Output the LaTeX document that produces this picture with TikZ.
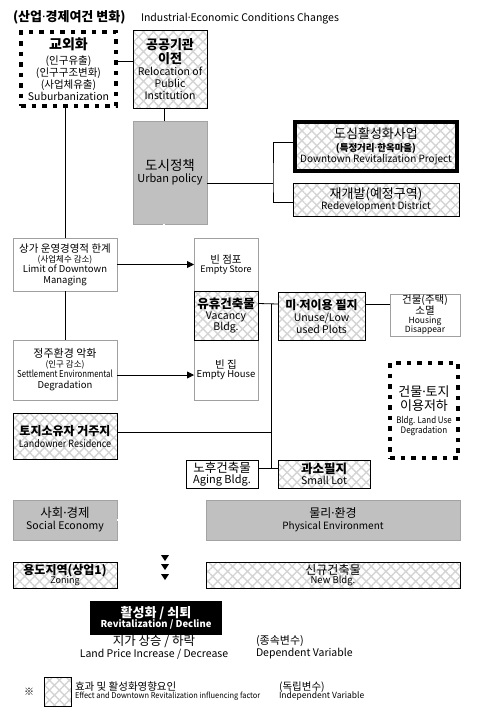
\documentclass[tikz,border=0pt]{standalone}
\usepackage{fontspec}
\setmainfont{Noto Sans CJK KR}
\newfontfamily\dotfont{Noto Sans}
\usetikzlibrary{patterns.meta,arrows.meta}
\definecolor{boxgray}{HTML}{C0C0C0}
\definecolor{edgegray}{HTML}{A0A0A0}
\definecolor{hatchgray}{HTML}{D4D4D4}
\newcommand\fs[2]{{\fontsize{#1}{#1}\selectfont #2}}
\newcommand\cnd[2]{\scalebox{#1}[1]{#2}}
\newcommand\md{{\dotfont ·}}
\newcommand\bx[6]{\node[#2, minimum width={(#5-#3)*1pt}, minimum height={(#6-#4)*1pt}] (#1) at ({(#3+#5)/2},{(#4+#6)/2})}
\tikzset{
  base/.style={inner sep=0pt, outer sep=0pt, align=center, font=\fontsize{10.5}{12}\selectfont},
  hatchbox/.style={base, draw=black, line width=0.8pt, pattern={Hatch[angle=45,distance=7pt,line width=1.4pt]}, pattern color=hatchgray},
  plainbox/.style={base, draw=edgegray, line width=0.8pt, fill=white},
  whitebox/.style={base, draw=black, line width=0.8pt, fill=white},
  graybox/.style={base, draw=boxgray!85!black, line width=0.5pt, fill=boxgray},
  dotbox/.style={base, draw=black, line width=4pt, dash pattern=on 4.5pt off 6pt},
  blackbox/.style={base, fill=black, text=white},
  conn/.style={draw=black, line width=0.8pt},
  arr/.style={conn, -{Triangle[length=7pt,width=7pt]}},
  dbl/.style={draw=black, double=white, double distance=1.4pt, line width=0.6pt},
  lab/.style={inner sep=0pt, outer sep=0pt}
}
\begin{document}
\begin{tikzpicture}[x=1pt,y=-1pt]
\useasboundingbox (0,0) rectangle (484,710);
% title
\node[lab, anchor=base west] (title) at (13,21.5) {\fs{13}{\bfseries (산업\md 경제여건 변화)}};
\node[lab, anchor=base west] (titleen) at (141,21.5) {\fs{10.5}{Industrial\md Economic Conditions Changes}};
% top boxes
\bx{gyo}{dotbox}{21}{32}{116}{106} {\fs{14}{\bfseries 교외화}\\[3pt] (인구유출)\\ (인구구조변화)\\ (사업체유출)\\ Suburbanization};
\bx{gong}{hatchbox}{133}{30}{207}{108} {\fs{13}{\bfseries 공공기관}\\[1pt] \fs{13}{\bfseries 이전}\\[0pt] Relocation of\\ Public\\ Institution};
\bx{dosi}{graybox}{133}{121}{207}{224} {\fs{13.5}{도시정책}\\[0pt] \fs{11}{Urban policy}};
\bx{dosim}{hatchbox, line width=4pt}{295}{122}{457}{171} {\fs{13}{도심활성화사업}\\[1pt] \fs{9.5}{\bfseries (특정거리\md 한옥마을)}\\[-1pt] \fs{10}{Downtown Revitalization Project}};
\bx{redev}{hatchbox}{293}{183}{459}{216} {\fs{13}{재개발(예정구역)}\\[-1pt] \fs{10}{Redevelopment District}};
% left column
\bx{sangga}{plainbox}{13}{238}{117}{291} {\fs{10.5}{상가 운영경영적 한계}\\[-2pt] \fs{8.5}{(사업체수 감소)}\\[-2pt] \fs{9.5}{Limit of Downtown}\\[-1pt] \fs{9.5}{Managing}};
\bx{jeong}{plainbox}{13}{340}{117}{400} {\fs{11}{정주환경 악화}\\[-2pt] \fs{8.5}{(인구 감소)}\\[-2pt] \fs{9.5}{\cnd{0.82}{Settlement Environmental}}\\[-1pt] \fs{9.5}{Degradation}};
\bx{land}{hatchbox}{13}{413}{117}{459} {\fs{12}{\bfseries 토지소유자 거주지}\\[0pt] \fs{10}{\cnd{0.9}{Landowner Residence}}};
% centre stack
\bx{store}{plainbox}{194}{238}{258}{291} {\fs{10.5}{빈 점포}\\[-3pt] \fs{9}{Empty Store}};
\bx{house}{plainbox}{194}{340}{258}{400} {\fs{10.5}{빈 집}\\[-3pt] \fs{9.5}{Empty House}};
\bx{vac}{hatchbox}{194}{291}{258}{340} {\fs{12.5}{\bfseries 유휴건축물}\\[-1pt] Vacancy\\[-1pt] Bldg.};
\bx{miuse}{hatchbox}{278}{292}{365}{340} {\fs{12}{\bfseries 미\md 저이용 필지}\\[0pt] Unuse/Low\\ used Plots};
\bx{housing}{plainbox}{390}{294}{460}{336} {\fs{10.5}{건물(주택)}\\[-1pt] \fs{10.5}{소멸}\\[-3pt] \fs{8.5}{Housing}\\[-3pt] \fs{8.5}{Disappear}};
\bx{bldgland}{dotbox}{390}{363}{458}{458} {\fs{13}{건물\md 토지}\\[2pt] \fs{13}{이용저하}\\[1pt] \fs{9}{\cnd{0.88}{Bldg. Land Use}}\\[-2pt] \fs{9}{\cnd{0.9}{Degradation}}};
\bx{aging}{whitebox}{186}{460}{258}{488} {\fs{12.5}{노후건축물}\\[-1pt] \fs{11}{Aging Bldg.}};
\bx{small}{hatchbox}{278}{460}{370}{488} {\fs{12.5}{\bfseries 과소필지}\\[-1pt] \fs{10.5}{Small Lot}};
% lower row
\bx{socio}{graybox}{13}{500}{117}{540} {\fs{12.5}{사회\md 경제}\\[0pt] \fs{10.5}{Social Economy}};
\bx{phys}{graybox}{206}{500}{460}{540} {\fs{12}{물리\md 환경}\\[0pt] \fs{10}{Physical Environment}};
\bx{zoning}{hatchbox}{13}{562}{117}{588} {\fs{12}{\bfseries 용도지역(상업1)}\\[-3pt] \fs{9}{Zoning}};
\bx{newb}{hatchbox}{206}{562}{460}{588} {\fs{12}{신규건축물}\\[-3pt] \fs{9.5}{New Bldg.}};
\bx{revit}{blackbox}{90}{601}{222}{635} {\fs{13}{\bfseries 활성화 / 쇠퇴}\\[-2pt] \fs{9.5}{\bfseries Revitalization / Decline}};
% dependent variable text
\node[lab, align=center] (land price) at (154,647) {\fs{12.5}{지가 상승 / 하락}\\[0pt] \fs{10.5}{Land Price Increase / Decrease}};
\node[lab, align=left, anchor=west] (dep) at (256,647) {\fs{11}{(종속변수)}\\[0pt] \fs{10.5}{Dependent Variable}};
% legend
\node[lab] (kome) at (29,692) {\fs{10}{※}};
\bx{legbox}{hatchbox}{44}{677}{71}{706} {};
\node[lab, align=left, anchor=west] (legtxt) at (75,691) {\fs{10.5}{효과 및 활성화영향요인}\\[-4pt] \fs{8}{\cnd{0.93}{Effect and Downtown Revitalization influencing factor}}};
\node[lab, align=left, anchor=west] (indep) at (279,691) {\fs{10.5}{(독립변수)}\\[-4pt] \fs{8.5}{Independent Variable}};
% coordinates
\coordinate (cx) at (164,0);
\coordinate (j1) at (273,183);
\coordinate (j2) at (271,0);
\coordinate (dend) at (164,539);
% connectors
\draw[conn] ([yshift=8pt]gyo.east) -- ([yshift=8pt]gong.west);
\draw[conn] (sangga.north) -- (sangga.north |- gyo.south);
\draw[conn] (sangga.south) -- (jeong.north);
\draw[conn] (gong.south -| cx) -- (dosi.north -| cx);
\draw[dbl] (dosi.south -| cx) -- (dend);
\draw[dbl] (socio.east) -- (phys.west);
\draw[conn] ([yshift=-10.5pt]dosi.east) -- (j1);
\draw[conn] ([yshift=4.5pt]dosim.west) -| (j1) |- ([yshift=-2.5pt]redev.west);
\draw[arr] (sangga.east) -- (store.west);
\draw[arr] ([yshift=-5pt]jeong.east) -- ([yshift=-5pt]house.west);
\draw[conn] ([yshift=12pt]vac.east) -- ([yshift=12pt]miuse.west);
\draw[conn] ([yshift=12pt]miuse.east) -- ([yshift=11pt]housing.west);
\draw[conn] ([yshift=12pt]vac.east -| j2) -- ([yshift=6pt]aging.east -| j2);
\draw[conn] ([yshift=4pt]land.east) -- ([yshift=4pt]land.east -| j2);
\draw[conn] ([yshift=6pt]aging.east) -- ([yshift=6pt]small.west);
% triangles
\foreach \ty in {558,567,577} \fill (161,\ty-3) -- (169,\ty-3) -- (165,\ty+3) -- cycle;
\end{tikzpicture}
\end{document}
